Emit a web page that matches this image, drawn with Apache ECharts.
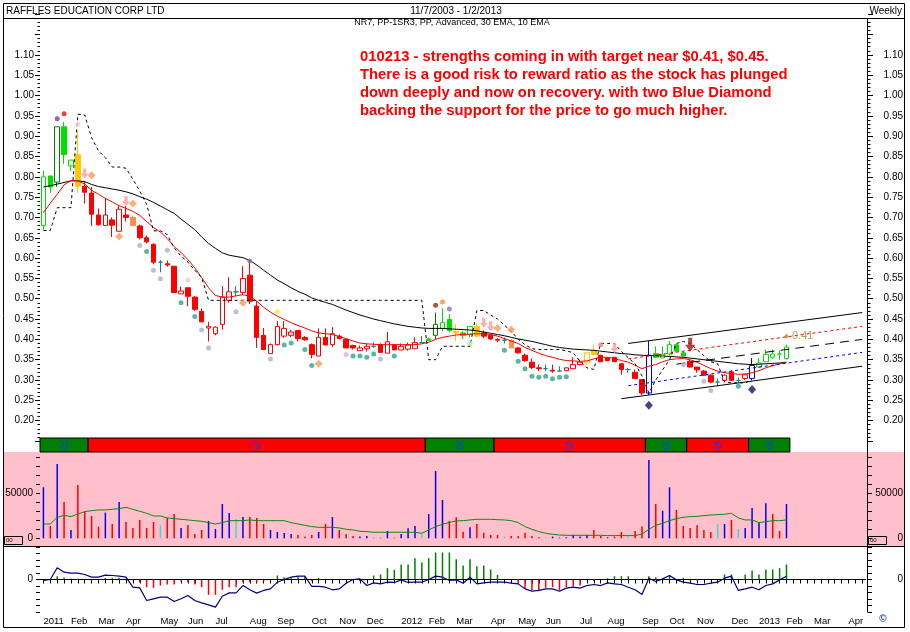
<!DOCTYPE html>
<html><head><meta charset="utf-8">
<script src="https://cdn.jsdelivr.net/npm/echarts@6/dist/echarts.min.js"></script>
<style>html,body{margin:0;padding:0;background:#fff}#c{width:910px;height:632px}</style>
</head><body><div id="c"></div>
<script>
// ---------- categories: weekly bars (Friday closes) ----------
const FIRST_WEEK = '2011-01-07';
const WEEKS_ON_AXIS = 120;
const MONTHS = ['Jan','Feb','Mar','Apr','May','Jun','Jul','Aug','Sep','Oct','Nov','Dec'];
const weeks = [];
for (let i = 0; i < WEEKS_ON_AXIS; i++) {
  const d = new Date(Date.parse(FIRST_WEEK + 'T00:00:00Z') + i * 7 * 86400000);
  weeks.push(d.toISOString().slice(0, 10));
}

// ---------- price (weekly OHLC) ----------
const open = [0.680,0.802,0.787,0.923,0.827,0.854,0.776,0.760,0.706,0.680,
0.694,0.666,0.706,0.700,0.679,0.650,0.634,0.590,0.586,0.580,
0.512,0.527,0.504,0.469,0.428,0.414,0.437,0.496,0.517,0.515,
0.558,0.482,0.410,0.365,0.387,0.408,0.410,0.422,0.405,0.387,
0.359,0.405,0.387,0.408,0.400,0.385,0.372,0.377,0.383,0.387,
0.366,0.386,0.374,0.376,0.377,0.392,0.401,0.410,0.427,0.449,
0.420,0.416,0.412,0.432,0.416,0.410,0.400,0.398,0.397,0.379,
0.361,0.344,0.330,0.328,0.324,0.322,0.323,0.328,0.338,0.342,
0.373,0.361,0.354,0.356,0.340,0.326,0.319,0.301,0.268,0.365,
0.354,0.364,0.387,0.367,0.346,0.332,0.322,0.312,0.295,0.299,
0.320,0.299,0.304,0.304,0.332,0.345,0.356,0.364,0.353];
const high = [0.815,0.802,0.923,0.935,0.841,0.913,0.790,0.775,0.722,0.748,
0.700,0.730,0.728,0.704,0.682,0.655,0.636,0.595,0.594,0.580,
0.530,0.527,0.506,0.476,0.443,0.432,0.531,0.553,0.531,0.580,
0.597,0.494,0.428,0.390,0.445,0.445,0.423,0.422,0.408,0.390,
0.427,0.427,0.430,0.412,0.402,0.387,0.385,0.390,0.393,0.390,
0.418,0.388,0.390,0.392,0.405,0.408,0.405,0.466,0.476,0.462,
0.438,0.420,0.432,0.440,0.422,0.412,0.403,0.405,0.400,0.381,
0.365,0.353,0.338,0.338,0.338,0.334,0.332,0.356,0.350,0.367,
0.387,0.362,0.356,0.356,0.342,0.330,0.326,0.301,0.396,0.383,
0.383,0.396,0.390,0.370,0.350,0.332,0.325,0.314,0.304,0.314,
0.324,0.306,0.313,0.354,0.353,0.375,0.375,0.372,0.387];
const low = [0.670,0.761,0.775,0.832,0.814,0.761,0.734,0.679,0.680,0.679,
0.652,0.666,0.690,0.679,0.646,0.636,0.585,0.565,0.579,0.515,
0.512,0.482,0.470,0.443,0.395,0.410,0.424,0.490,0.506,0.509,
0.487,0.379,0.375,0.365,0.385,0.404,0.405,0.395,0.397,0.353,
0.359,0.386,0.381,0.400,0.379,0.375,0.372,0.370,0.379,0.368,
0.366,0.374,0.374,0.372,0.377,0.391,0.396,0.400,0.420,0.418,
0.396,0.400,0.405,0.405,0.403,0.399,0.393,0.390,0.379,0.365,
0.345,0.327,0.322,0.322,0.318,0.322,0.323,0.328,0.336,0.336,
0.360,0.345,0.346,0.345,0.313,0.318,0.304,0.263,0.263,0.356,
0.354,0.360,0.371,0.359,0.330,0.318,0.310,0.292,0.285,0.299,
0.299,0.294,0.300,0.300,0.330,0.345,0.352,0.350,0.350];
const close = [0.800,0.775,0.923,0.855,0.841,0.777,0.762,0.708,0.682,0.706,
0.681,0.720,0.700,0.680,0.650,0.640,0.590,0.590,0.583,0.515,
0.519,0.506,0.474,0.443,0.432,0.430,0.504,0.517,0.517,0.550,
0.494,0.405,0.375,0.387,0.432,0.427,0.418,0.402,0.399,0.363,
0.405,0.386,0.414,0.402,0.379,0.379,0.379,0.383,0.383,0.368,
0.394,0.374,0.383,0.386,0.392,0.392,0.397,0.437,0.441,0.422,
0.416,0.410,0.432,0.408,0.408,0.401,0.398,0.398,0.379,0.367,
0.348,0.331,0.328,0.328,0.322,0.322,0.330,0.338,0.344,0.367,
0.363,0.345,0.348,0.345,0.326,0.326,0.304,0.268,0.361,0.356,
0.363,0.387,0.371,0.359,0.332,0.325,0.312,0.295,0.295,0.312,
0.299,0.299,0.313,0.336,0.342,0.363,0.364,0.364,0.381];
// expert colouring of each bar: g=green d=dark green r=red y=gold o=orange b=blue t=teal
const candleTone = ('ggdggyrrrr' + 'rrrorrrtrr' + 'rrrrrrrrtr' + 'rrrrrrrrrr' + 'rrrrrrrrtr' +
  'rrrrrtgdgg' + 'yggyrrrtor' + 'rrrtrtrrry' + 'yrrrrtrrbg' + 'ggggrrrrtr' + 'rtrbggggg').split('');

// ---------- overlays ----------
const ema30 = [0.775,0.778,0.782,0.786,0.790,0.790,0.788,0.781,0.776,0.773,
0.770,0.767,0.763,0.758,0.751,0.745,0.737,0.728,0.719,0.710,
0.696,0.683,0.670,0.652,0.636,0.624,0.613,0.607,0.604,0.601,
0.594,0.583,0.570,0.558,0.546,0.537,0.527,0.518,0.511,0.502,
0.496,0.491,0.486,0.479,0.472,0.466,0.460,0.455,0.450,0.446,
0.442,0.438,0.435,0.432,0.430,0.428,0.427,0.427,0.427,0.426,
0.425,0.424,0.423,0.421,0.418,0.415,0.412,0.409,0.405,0.401,
0.398,0.395,0.391,0.387,0.383,0.380,0.378,0.376,0.375,0.374,
0.373,0.371,0.369,0.367,0.365,0.364,0.362,0.361,0.360,0.360,
0.359,0.358,0.357,0.356,0.354,0.352,0.350,0.348,0.346,0.344,
0.342,0.340,0.339,0.338,0.339,0.340,0.341,0.342,0.344];
const ema10 = [0.712,0.735,0.757,0.780,0.791,0.790,0.782,0.767,0.757,0.747,
0.738,0.729,0.722,0.715,0.705,0.690,0.675,0.664,0.648,0.628,
0.614,0.596,0.576,0.552,0.527,0.508,0.504,0.504,0.507,0.510,
0.506,0.494,0.479,0.467,0.457,0.449,0.441,0.434,0.428,0.421,
0.416,0.414,0.412,0.407,0.402,0.396,0.391,0.389,0.388,0.387,
0.387,0.387,0.387,0.387,0.387,0.389,0.393,0.400,0.405,0.408,
0.411,0.412,0.413,0.414,0.414,0.412,0.408,0.402,0.396,0.390,
0.380,0.373,0.366,0.360,0.356,0.351,0.348,0.347,0.346,0.347,
0.352,0.356,0.356,0.353,0.348,0.344,0.336,0.328,0.334,0.338,
0.345,0.350,0.352,0.353,0.350,0.344,0.336,0.328,0.322,0.318,
0.316,0.314,0.315,0.318,0.323,0.330,0.335,0.340,0.343];
const stopLine = [0.668,0.668,0.724,0.724,0.724,0.954,0.952,0.896,0.864,0.847,
0.824,0.824,0.821,0.794,0.765,0.732,0.667,0.667,0.658,0.625,
0.605,0.590,0.570,0.552,0.496,0.496,0.496,0.496,0.496,0.496,
0.496,0.496,0.496,0.496,0.496,0.496,0.496,0.496,0.496,0.496,
0.496,0.496,0.496,0.496,0.496,0.496,0.496,0.496,0.496,0.496,
0.496,0.496,0.496,0.496,0.496,0.496,0.350,0.350,0.383,0.383,
0.383,0.383,0.383,0.471,0.471,0.460,0.450,0.435,0.420,0.400,
0.387,0.377,0.375,0.375,0.375,0.375,0.372,0.367,0.346,0.330,
0.326,0.390,0.390,0.390,0.370,0.355,0.340,0.310,0.268,0.300,
0.325,0.350,0.390,0.395,0.390,0.375,0.360,0.345,0.340,0.295,
0.293,0.293,0.293,0.300];
// trend channel: [startWeek, startPrice, endWeek, endPrice]
const channelTop    = [85, 0.390, 119, 0.466];
const channelTarget = [85, 0.352, 119, 0.432];
const channelMid    = [92, 0.339, 119, 0.400];
const channelSupport= [85, 0.286, 119, 0.368];
const channelBottom = [84, 0.254, 119, 0.334];
const targetWeek = 108, targetPrice = 0.408;

const dotWeek  = [2,3,5,14,15,16,17,18,20,21,22,23,24,28,30,33,34,35,36,38,39,44,45,46,47,48,49,51,57,58,59,62,67,69,70,71,72,73,74,75,76,81,93,96,97,101];
const dotPrice = [0.943,0.955,0.929,0.631,0.616,0.570,0.549,0.619,0.490,0.546,0.456,0.423,0.379,0.468,0.593,0.352,0.468,0.386,0.391,0.375,0.336,0.363,0.359,0.359,0.356,0.364,0.352,0.359,0.484,0.492,0.475,0.391,0.373,0.346,0.328,0.309,0.307,0.309,0.303,0.307,0.308,0.387,0.338,0.297,0.274,0.285];
const dotTone  = ['purple','red','pink','grey','teal','grey','grey','grey','teal','pink','teal','grey','grey','grey','slate','grey','yellow','teal','teal','teal','teal','violet','teal','teal','teal','teal','grey','teal','darkred','orange','slate','lightgreen','teal','teal','teal','teal','teal','teal','teal','teal','teal','rose','grey','grey','grey','teal'];
const arrowWeek  = [6,12,64,65,83,94];
const arrowPrice = [0.808,0.740,0.441,0.432,0.379,0.387];
const arrowTone  = ['pink','pink','pink','pink','pink','brown'];
const diamondWeek  = [7,13,11,29,40,66,68];
const diamondPrice = [0.804,0.734,0.653,0.490,0.340,0.428,0.424];
const blueDiamondWeek  = [88,103];
const blueDiamondPrice = [0.238,0.277];

// ---------- trend banner ----------
const bannerStart = [0,7,56,66,88,94,103];
const bannerEnd   = [6,55,65,87,93,102,108];
const bannerBull  = [1,0,1,0,1,0,1];

// ---------- volume ----------
const volume = [56700,13700,82600,40400,9300,59300,29600,24800,13000,28500,
15900,40400,18100,11500,20400,11500,18100,14400,22600,27000,
11500,14800,4800,9300,19300,10400,38100,28100,21500,23700,
23700,22600,15900,9300,7000,5900,4800,3700,1900,3700,
7000,15900,23700,9300,4800,2600,1900,2600,1100,700,
8100,700,4800,11100,13700,5600,27000,74800,42600,19300,
23300,7400,12200,15900,6300,3700,3700,1900,2600,2600,
6300,2600,1100,1100,1900,700,1100,3300,1900,3700,
9300,2600,1100,1900,7000,1900,8100,13000,87000,38100,
30700,56700,31500,13700,11500,14400,9300,7000,15900,15900,
20400,10400,11500,33700,17400,38900,27000,8100,38100];
const volumeDir = ('udududdddu' + 'dudddddndd' + 'uddduuuunu' + 'ddduuuuddd' + 'ududdduund' +
  'uduuunuuud' + 'dduddddndd' + 'dddnuuuuuu' + 'dduddnddud' + 'uuddddddnu' + 'dnuuuuddu').split('');
const volumeAvg = [15900,15900,23300,25600,24100,27000,29600,30700,31500,31500,
32200,33000,34400,32200,30000,27800,24800,24800,22600,21900,
21100,20400,19600,18900,17400,15900,17400,19600,19600,19600,
20400,19600,19600,19600,19600,19600,17400,15900,14400,13000,
12200,12200,12200,11500,10000,9300,7800,7400,6700,6700,
6700,6700,6700,6700,6700,5600,9300,13000,15600,17600,
19300,19600,20400,21100,21100,21100,20700,20400,19600,17400,
13000,10000,7400,5600,4400,3700,3300,3300,3300,3300,
3300,3300,3000,3000,3000,3000,3000,4800,10000,14400,
16700,19600,21900,23300,24100,24400,25200,25900,26300,26700,
27800,22600,20400,20400,17400,18500,19600,19600,20400];

// ---------- oscillator (thousandths) ----------
const macdLine = [-1.1,0,12.6,7.9,6.8,6.8,5.4,2.5,2.5,4.7,
4.3,3.6,2.5,-8.3,-9.0,-22.6,-20.8,-19.0,-19.0,-23.7,
-20.8,-17.2,-22.6,-25.1,-27.3,-29.8,-18.0,-14.4,-14.4,-6.5,
-11.1,-14.7,-11.8,-10.1,-2.9,0,2.5,3.6,3.6,-7.5,
-7.5,-8.3,-11.1,-10.1,-4.0,0,0.7,-6.5,-3.6,-4.7,
-2.9,-3.2,-0.4,-3.2,-2.9,-2.9,0,3.6,2.5,-1.1,
-0.4,-4.0,2.5,-4.7,-3.6,-2.9,-2.9,-2.9,-4.0,-4.7,
-10.1,-12.6,-11.8,-10.1,-10.1,-12.6,-9.3,-8.3,-9.3,-6.5,
-5.4,-6.5,-3.6,-4.7,-5.4,-8.3,-11.1,-16.2,1.4,-2.2,
0.7,4.3,-0.4,-2.9,-4.0,-5.4,-5.4,-4.0,-2.9,1.4,
3.6,-11.8,-10.1,-8.3,-11.1,-6.5,-4.7,-0.4,3.6];
const macdHist = [0,0,3.6,2.2,1.1,0.7,-0.4,-0.7,-0.7,1.8,
1.8,1.8,1.1,-1.1,-3.2,-8.3,-9.0,-6.5,-5.4,-5.4,
-1.8,-2.9,-5.4,-8.3,-16.5,-16.5,-11.1,-8.3,-8.3,-2.9,
-2.9,-2.9,-1.8,-1.1,4.3,2.5,2.5,3.6,3.6,-1.8,
1.8,-0.4,-0.4,-0.4,-0.4,0,-1.8,0,4.3,5.4,
12.2,10.4,16.2,16.2,23.0,18.3,23.0,29.1,29.1,29.1,
21.9,15.1,21.9,14.4,15.1,10.8,5.0,0.7,0.4,-4.0,
-10.1,-11.8,-12.6,-9.0,-8.3,-11.8,-8.3,-7.2,-6.5,0,
-1.8,0,1.4,3.6,3.6,3.6,0.4,0.7,3.6,2.5,
0.4,4.3,0,1.8,-1.1,-1.1,0,0,0,5.4,
5.4,0,5.4,9.7,5.4,10.8,10.8,12.2,16.2];

// ---------- styling ----------
const TONE = {g:'#00e000', d:'#008000', r:'#ff0000', y:'#ffc800', o:'#ff8c48', b:'#0000ff', t:'#108a8a'};
const DOT = {purple:'#7a3fa0', red:'#ee1010', pink:'#ffc8c8', grey:'#aab2c8', teal:'#2ea58a', slate:'#7878b8',
  yellow:'#f0f040', violet:'#e4a8e8', darkred:'#a02818', orange:'#ff9030', lightgreen:'#a0f0a0', rose:'#f08080'};
const ARROW = {pink:'#ff9aa0', brown:'#a01818'};
const VOLC = {u:'#0000ff', d:'#ff0000', n:'#40d8d0'};
const FONT = 'Liberation Sans, Arial, sans-serif';
const G = {left:40, width:825.6};

const candleData = open.map((o, i) => {
  const col = TONE[candleTone[i]];
  const fill = close[i] > o ? '#ffffff' : col;
  return {value:[o, close[i], low[i], high[i]],
    itemStyle:{color:fill, color0:fill, borderColor:col, borderColor0:col, borderColorDoji:col, borderWidth:1}};
});
const seg = a => [[a[0], a[1]], [a[2], a[3]]];
const downArrow = 'path://M3,0 L7,0 L7,6 L10,6 L5,12 L0,6 L3,6 Z';

const yTickStyle = {lineStyle:{color:'#000', width:1}};
function priceAxis(pos) {
  return {type:'value', gridIndex:0, position:pos, offset: pos === 'right' ? 2.4 : 0,
    min:0.15, max:1.20, interval:0.05, scale:true,
    axisLine:{show:false}, splitLine:{show:false},
    axisTick:{show:true, length:5, ...yTickStyle},
    minorTick:{show:true, splitNumber:5, length:2.5, ...yTickStyle},
    axisLabel:{fontSize:10, fontFamily:FONT, color:'#000', margin: pos === 'right' ? 35 : 6, align:'right',
      formatter: v => (v < 0.195 || v > 1.105) ? '' : v.toFixed(2)}};
}
function volumeAxis(pos) {
  return {type:'value', gridIndex:2, position:pos, offset: pos === 'right' ? 2.4 : 0,
    min:-8560, max:95900,
    axisLine:{show:false}, splitLine:{show:false},
    axisTick:{show:true, length:4, customValues:[0,10000,20000,30000,40000,50000,60000,70000,80000,90000], ...yTickStyle},
    axisLabel:{fontSize:10, fontFamily:FONT, color:'#000', margin: pos === 'right' ? 35 : 7, align:'right',
      customValues:[0,50000], formatter: v => String(Math.round(v))}};
}
function oscAxis(pos) {
  return {type:'value', gridIndex:3, position:pos, offset: pos === 'right' ? 2.4 : 0,
    min:-35, max:35, interval:7,
    axisLine:{show:false}, splitLine:{show:false},
    axisTick:{show:true, length:4, ...yTickStyle},
    axisLabel:{fontSize:10, fontFamily:FONT, color:'#000', margin: pos === 'right' ? 35 : 7, align:'right',
      formatter: v => Math.abs(v) < 1e-9 ? '0' : ''}};
}
function hiddenX(idx) {
  return {type:'category', gridIndex:idx, data:weeks, boundaryGap:true, show:false};
}

const option = {
  animation:false,
  backgroundColor:'#ffffff',
  grid:[
    {left:G.left, width:G.width, top:14.2, height:426.8},
    {left:G.left, width:G.width, top:438, height:14},
    {left:G.left, width:G.width, top:452, height:94},
    {left:G.left, width:G.width, top:547, height:65}
  ],
  xAxis:[hiddenX(0), hiddenX(1), hiddenX(2),
    {type:'category', gridIndex:3, data:weeks, boundaryGap:true,
      axisLine:{show:true, lineStyle:{color:'#000', width:1}},
      axisTick:{show:true, interval:0, alignWithLabel:true, length:4, lineStyle:{color:'#000'}},
      axisLabel:{interval:(i, v) => i === 0 || v.slice(5,7) !== weeks[i-1].slice(5,7),
        formatter: v => v.slice(5,7) === '01' ? v.slice(0,4) : MONTHS[+v.slice(5,7) - 1],
        align:'left', margin:4, fontSize:9.5, fontFamily:FONT, color:'#000'}}
  ],
  yAxis:[priceAxis('left'), priceAxis('right'),
    {type:'value', gridIndex:1, min:0, max:1, show:false},
    volumeAxis('left'), volumeAxis('right'),
    oscAxis('left'), oscAxis('right')],
  series:[
    {type:'candlestick', name:'price', xAxisIndex:0, yAxisIndex:0, barWidth:5, data:candleData, z:3},
    {type:'line', name:'30 EMA', xAxisIndex:0, yAxisIndex:0, data:ema30, symbol:'none', lineStyle:{color:'#000', width:1}, z:4},
    {type:'line', name:'10 EMA', xAxisIndex:0, yAxisIndex:0, data:ema10, symbol:'none', lineStyle:{color:'#ff0000', width:1}, z:4},
    {type:'line', name:'stop', xAxisIndex:0, yAxisIndex:0, data:stopLine, symbol:'none', lineStyle:{color:'#000', width:1, type:[3,3]}, z:4},
    {type:'line', xAxisIndex:0, yAxisIndex:0, data:seg(channelTop), symbol:'none', lineStyle:{color:'#000', width:1}, z:4},
    {type:'line', xAxisIndex:0, yAxisIndex:0, data:seg(channelTarget), symbol:'none', lineStyle:{color:'#ff0000', width:1, type:[3,3]}, z:4},
    {type:'line', xAxisIndex:0, yAxisIndex:0, data:seg(channelMid), symbol:'none', lineStyle:{color:'#000', width:1, type:[9,6]}, z:4},
    {type:'line', xAxisIndex:0, yAxisIndex:0, data:seg(channelSupport), symbol:'none', lineStyle:{color:'#0000ff', width:1, type:[3,3]}, z:4},
    {type:'line', xAxisIndex:0, yAxisIndex:0, data:seg(channelBottom), symbol:'none', lineStyle:{color:'#000', width:1}, z:4},
    {type:'scatter', xAxisIndex:0, yAxisIndex:0, symbolSize:5, z:5,
      data:dotWeek.map((w, i) => ({value:[w, dotPrice[i]], itemStyle:{color:DOT[dotTone[i]]}}))},
    {type:'scatter', xAxisIndex:0, yAxisIndex:0, symbol:downArrow, z:5,
      data:arrowWeek.map((w, i) => ({value:[w, arrowPrice[i]], symbolSize: arrowTone[i] === 'brown' ? [10,14] : [8,10],
        itemStyle:{color:ARROW[arrowTone[i]]}}))},
    {type:'scatter', xAxisIndex:0, yAxisIndex:0, symbol:'diamond', symbolSize:[8,8], z:5,
      itemStyle:{color:'#ff9a58'}, data:diamondWeek.map((w, i) => [w, diamondPrice[i]])},
    {type:'scatter', xAxisIndex:0, yAxisIndex:0, symbol:'diamond', symbolSize:[8,9], z:5,
      itemStyle:{color:'#141470'}, data:blueDiamondWeek.map((w, i) => [w, blueDiamondPrice[i]])},
    {type:'scatter', xAxisIndex:0, yAxisIndex:0, symbol:'diamond', symbolSize:5, z:5,
      itemStyle:{color:'#a89028'}, data:[[targetWeek, targetPrice]],
      label:{show:true, position:'right', distance:3, color:'#a89028', fontSize:11, fontFamily:FONT,
        formatter: p => p.value[1].toFixed(2)}},
    {type:'custom', xAxisIndex:1, yAxisIndex:2, z:3,
      encode:{x:[0,1]},
      data:bannerStart.map((s, i) => [s, bannerEnd[i], bannerBull[i]]),
      renderItem:(params, api) => {
        const band = api.size([1, 0])[0];
        const x0 = api.coord([api.value(0), 0])[0] - band / 2;
        const x1 = api.coord([api.value(1), 0])[0] + band / 2;
        const cs = params.coordSys;
        const bull = api.value(2) === 1;
        return {type:'group', children:[
          {type:'rect', shape:{x:x0, y:cs.y, width:x1 - x0, height:cs.height},
            style:{fill: bull ? '#008000' : '#ff0000', stroke:'#000', lineWidth:1}},
          {type:'text', style:{text: bull ? '\u2649' : '\u264B', x:(x0 + x1) / 2, y:cs.y + cs.height / 2 + 0.5,
            align:'center', verticalAlign:'middle', fill:'#1838ff', font:'bold 12px DejaVu Sans'}}
        ]};
      }},
    {type:'bar', xAxisIndex:2, yAxisIndex:3, barWidth:1.5, z:3,
      data:volume.map((v, i) => ({value:v, itemStyle:{color:VOLC[volumeDir[i]]}}))},
    {type:'line', xAxisIndex:2, yAxisIndex:3, data:volumeAvg, symbol:'none', lineStyle:{color:'#0a8a0a', width:1}, z:4},
    {type:'bar', xAxisIndex:3, yAxisIndex:5, barWidth:1.5, z:3,
      data:macdHist.map(v => ({value:v, itemStyle:{color: v >= 0 ? '#008000' : '#ff0000'}}))},
    {type:'line', xAxisIndex:3, yAxisIndex:5, data:macdLine, symbol:'none', lineStyle:{color:'#000080', width:1.2}, z:4,
      markLine:{silent:true, symbol:'none', label:{show:false}, lineStyle:{color:'#000', width:1, type:[12,8]},
        data:[{yAxis:0}]}}
  ],
  graphic:[
    {type:'rect', z:0, shape:{x:4, y:452, width:901, height:94}, style:{fill:'#ffc0cb'}},
    {type:'rect', z:50, shape:{x:3.5, y:3.5, width:901, height:624}, style:{fill:'none', stroke:'#000', lineWidth:1}},
    {type:'line', z:50, shape:{x1:3.5, y1:18.5, x2:904.5, y2:18.5}, style:{stroke:'#000', lineWidth:1}},
    {type:'line', z:50, shape:{x1:3.5, y1:546.5, x2:904.5, y2:546.5}, style:{stroke:'#000', lineWidth:1.2}},
    {type:'line', z:50, shape:{x1:867.5, y1:18.5, x2:867.5, y2:612.5}, style:{stroke:'#000', lineWidth:1}},
    {type:'text', z:50, x:6, y:11, style:{text:'RAFFLES EDUCATION CORP LTD', font:'10px ' + FONT, fill:'#000', verticalAlign:'middle'}},
    {type:'text', z:50, x:456, y:11, style:{text:'11/7/2003 - 1/2/2013', font:'10px ' + FONT, fill:'#000', align:'center', verticalAlign:'middle'}},
    {type:'text', z:50, x:902, y:11, style:{text:'Weekly', font:'10px ' + FONT, fill:'#000', align:'right', verticalAlign:'middle'}},
    {type:'text', z:50, x:452, y:23, style:{text:'NR7, PP-1SR3, PP, Advanced, 30 EMA, 10 EMA', font:'9px ' + FONT, fill:'#000', align:'center', verticalAlign:'middle'}},
    {type:'text', z:50, x:360, y:48, style:{text:'010213 - strengths coming in with target near $0.41, $0.45.\nThere is a good risk to reward ratio as the stock has plunged\ndown deeply and now on recovery. with two Blue Diamond\nbacking the support for the price to go much higher.',
      font:'bold 14.8px ' + FONT, fill:'#ff0000', lineHeight:18, verticalAlign:'top'}},
    {type:'rect', z:50, shape:{x:4.5, y:536.5, width:18, height:8}, style:{fill:'none', stroke:'#000', lineWidth:1}},
    {type:'text', z:50, x:6, y:540.5, style:{text:'00', font:'6px ' + FONT, fill:'#000', verticalAlign:'middle'}},
    {type:'rect', z:50, shape:{x:868.5, y:536.5, width:18, height:8}, style:{fill:'none', stroke:'#000', lineWidth:1}},
    {type:'text', z:50, x:870, y:540.5, style:{text:'00', font:'6px ' + FONT, fill:'#000', verticalAlign:'middle'}},
    {type:'text', z:50, x:883, y:619, style:{text:'\u00A9', font:'bold 10px ' + FONT, fill:'#2040ff', align:'center', verticalAlign:'middle'}}
  ]
};
const chart = echarts.init(document.getElementById('c'));
chart.setOption(option);
</script></body></html>
